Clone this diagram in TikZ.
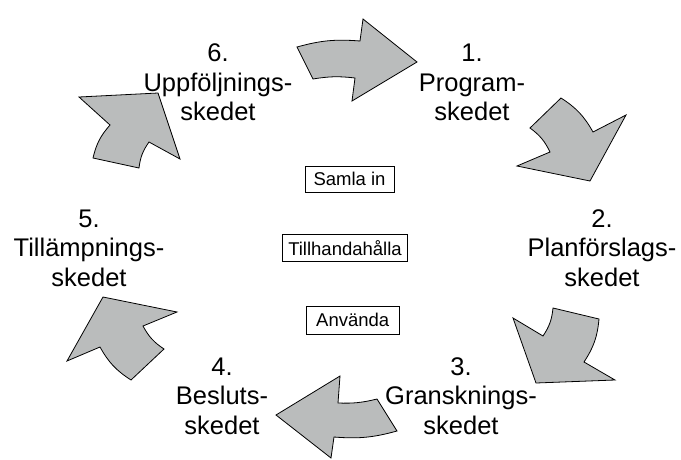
\documentclass[tikz,border=0pt]{standalone}
\usepackage{fontspec}
\setmainfont{Liberation Sans}
\definecolor{arrowgray}{RGB}{186,188,188}
\begin{document}
\begin{tikzpicture}[x=1pt,y=1pt,
  cycarrow/.style={fill=arrowgray,draw=black,line width=0.8pt,line join=miter},
  phase/.style={align=center,anchor=base,inner sep=0pt,font=\fontsize{25.5}{29.5}\selectfont},
  task/.style={draw=black,line width=0.7pt,inner sep=0pt,font=\fontsize{18.5}{20}\selectfont},
  ob/.style={bend left=#1},
  ib/.style={bend right=#1}]
\useasboundingbox (0,0) rectangle (681,-459);
% arrow 1 (top)
\path[cycarrow] (297,-47) to[ob=10] (360,-41) -- (363,-19) -- (417,-62) -- (352,-101)
  -- (355,-78) to[ib=8] (313,-79) -- cycle;
% arrow 2 (upper right)
\path[cycarrow] (561,-98) to[ob=14] (593,-132) -- (626,-115) -- (590,-181) -- (517,-166)
  -- (550,-152) to[ib=14] (530,-128) -- cycle;
% arrow 3 (lower right)
\path[cycarrow] (599,-319) to[ob=14] (584,-362) -- (615,-380) -- (536,-383) -- (513,-318)
  -- (543,-336) to[ib=14] (553,-308) -- cycle;
% arrow 4 (bottom)
\path[cycarrow] (397,-431) to[ob=10] (334,-437) -- (331,-458) -- (276,-415) -- (340,-376)
  -- (338,-403) to[ib=8] (377,-399) -- cycle;
% arrow 5 (lower left)
\path[cycarrow] (131,-380) to[ob=14] (100,-347) -- (67,-361) -- (103,-297) -- (177,-312)
  -- (143,-326) to[ib=14] (164,-349) -- cycle;
% arrow 6 (upper left)
\path[cycarrow] (93,-158) to[ob=14] (110,-125) -- (79,-97) -- (158,-93) -- (180,-159)
  -- (149,-142) to[ib=14] (139,-168) -- cycle;
% phase labels (anchor = baseline of last line)
\node[phase] (p1) at (472,-120.5) {1.\\Program-\\skedet};
\node[phase] (p2) at (602,-286) {2.\\Planförslags-\\skedet};
\node[phase] (p3) at (461,-434) {3.\\Gransknings-\\skedet};
\node[phase] (p4) at (222,-434) {4.\\Besluts-\\skedet};
\node[phase] (p5) at (89,-286) {5.\\Tillämpnings-\\skedet};
\node[phase] (p6) at (218,-120.5) {6.\\Uppföljnings-\\skedet};
% central boxes
\node[task,minimum width=89pt,minimum height=26pt] (t1) at (349.5,-179) {Samla in};
\node[task,minimum width=125pt,minimum height=27pt] (t2) at (345,-248.3) {Tillhandahålla};
\node[task,minimum width=93pt,minimum height=28pt] (t3) at (352.7,-320) {Använda};
\end{tikzpicture}
\end{document}
